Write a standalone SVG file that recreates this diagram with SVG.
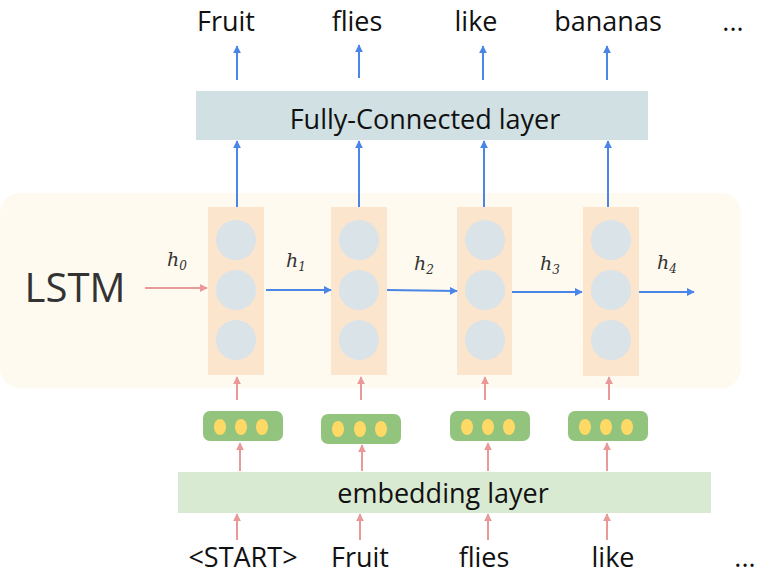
<svg xmlns="http://www.w3.org/2000/svg" width="771" height="583" viewBox="0 0 771 583">
<defs>
<marker id="ab" viewBox="0 0 10 10" refX="9" refY="5" markerWidth="4" markerHeight="4" orient="auto"><path d="M0,0 L10,5 L0,10 z" fill="#4a86e8"/></marker>
<marker id="ap" viewBox="0 0 10 10" refX="9" refY="5" markerWidth="4" markerHeight="4" orient="auto"><path d="M0,0 L10,5 L0,10 z" fill="#ea9999"/></marker>
<style>
.w{font-family:"Open Sans","Noto Sans","Liberation Sans",sans-serif;font-size:27px;fill:#111;text-anchor:middle}
.h{font-family:"DejaVu Serif","Liberation Serif",serif;font-style:italic;font-size:19px;fill:#333}
.s{font-family:"DejaVu Serif","Liberation Serif",serif;font-size:12px;fill:#333}
.cell{fill:#fce5cd}
.c{fill:#d9e3e8}
.emb{fill:#93c47d}
.d{fill:#ffd966}
.b{stroke:#4a86e8;stroke-width:2;fill:none;marker-end:url(#ab)}
.p{stroke:#ea9999;stroke-width:2;fill:none;marker-end:url(#ap)}
</style>
</defs>
<rect id="lstm-bg" x="0" y="193" width="741" height="195" rx="20" fill="#fefaf0"/>
<text x="75" y="302" style="font-family:'Open Sans','Noto Sans',sans-serif;font-size:40px;fill:#333;text-anchor:middle">LSTM</text>
<g id="fc"><rect x="196" y="91" width="452" height="49" fill="#d0e0e3"/><text class="w" x="425" y="129">Fully-Connected layer</text></g>
<g id="embedding"><rect x="178" y="472" width="533" height="41" fill="#d9ead3"/><text class="w" x="443" y="503">embedding layer</text></g>
<g id="cell1"><rect class="cell" x="208" y="207" width="56" height="168"/><circle class="c" cx="236" cy="240" r="20"/><circle class="c" cx="236" cy="290" r="20"/><circle class="c" cx="236" cy="340" r="20"/></g>
<g id="cell2"><rect class="cell" x="331" y="207" width="56" height="168"/><circle class="c" cx="359" cy="240" r="20"/><circle class="c" cx="359" cy="290" r="20"/><circle class="c" cx="359" cy="340" r="20"/></g>
<g id="cell3"><rect class="cell" x="457" y="207" width="55" height="168"/><circle class="c" cx="485" cy="240" r="20"/><circle class="c" cx="485" cy="290" r="20"/><circle class="c" cx="485" cy="340" r="20"/></g>
<g id="cell4"><rect class="cell" x="583" y="207" width="56" height="169"/><circle class="c" cx="611" cy="240" r="20"/><circle class="c" cx="611" cy="290" r="20"/><circle class="c" cx="611" cy="340" r="20"/></g>
<g id="emb1"><rect class="emb" x="203" y="411" width="80" height="30" rx="7"/><ellipse class="d" cx="220" cy="427" rx="6" ry="8"/><ellipse class="d" cx="241" cy="427" rx="6" ry="8"/><ellipse class="d" cx="262" cy="427" rx="6" ry="8"/></g>
<g id="emb2"><rect class="emb" x="321" y="414" width="80" height="30" rx="7"/><ellipse class="d" cx="338" cy="429" rx="6" ry="8"/><ellipse class="d" cx="360" cy="429" rx="6" ry="8"/><ellipse class="d" cx="381" cy="429" rx="6" ry="8"/></g>
<g id="emb3"><rect class="emb" x="450" y="411" width="80" height="30" rx="7"/><ellipse class="d" cx="467" cy="427" rx="6" ry="8"/><ellipse class="d" cx="488" cy="427" rx="6" ry="8"/><ellipse class="d" cx="509" cy="427" rx="6" ry="8"/></g>
<g id="emb4"><rect class="emb" x="568" y="411" width="80" height="30" rx="7"/><ellipse class="d" cx="585" cy="427" rx="6" ry="8"/><ellipse class="d" cx="606" cy="427" rx="6" ry="8"/><ellipse class="d" cx="627" cy="427" rx="6" ry="8"/></g>
<g id="connectors">
<line class="b" x1="237" y1="80" x2="237" y2="46"/><line class="b" x1="359" y1="78" x2="359" y2="45"/><line class="b" x1="483" y1="80" x2="483" y2="46"/><line class="b" x1="607" y1="80" x2="607" y2="46"/>
<line class="b" x1="237" y1="207" x2="237" y2="141"/><line class="b" x1="359" y1="207" x2="359" y2="141"/><line class="b" x1="484" y1="207" x2="484" y2="141"/><line class="b" x1="608" y1="207" x2="608" y2="141"/>
<line class="p" x1="145" y1="288" x2="207" y2="288"/>
<line class="b" x1="266" y1="290" x2="331" y2="290"/><line class="b" x1="387" y1="290" x2="457" y2="291"/><line class="b" x1="512" y1="292" x2="582" y2="292"/><line class="b" x1="639" y1="292" x2="694" y2="292"/>
<line class="p" x1="237" y1="400" x2="237" y2="377"/><line class="p" x1="361" y1="400" x2="361" y2="377"/><line class="p" x1="485" y1="400" x2="485" y2="377"/><line class="p" x1="609" y1="400" x2="609" y2="377"/>
<line class="p" x1="240" y1="471" x2="240" y2="443"/><line class="p" x1="362" y1="471" x2="362" y2="445"/><line class="p" x1="488" y1="471" x2="488" y2="443"/><line class="p" x1="607" y1="471" x2="607" y2="443"/>
<line class="p" x1="237" y1="540" x2="237" y2="514"/><line class="p" x1="360" y1="540" x2="360" y2="514"/><line class="p" x1="488" y1="540" x2="488" y2="514"/><line class="p" x1="607" y1="540" x2="607" y2="514"/>
</g>
<g id="hlabels">
<text class="h" x="167" y="266">h<tspan class="s" dy="4">0</tspan></text>
<text class="h" x="286" y="267">h<tspan class="s" dy="4">1</tspan></text>
<text class="h" x="414" y="270">h<tspan class="s" dy="4">2</tspan></text>
<text class="h" x="540" y="270">h<tspan class="s" dy="4">3</tspan></text>
<text class="h" x="657" y="269">h<tspan class="s" dy="4">4</tspan></text>
</g>
<g id="outputs">
<text class="w" x="226" y="31">Fruit</text><text class="w" x="357" y="31">flies</text><text class="w" x="476" y="31">like</text><text class="w" x="608" y="31">bananas</text><text class="w" x="733" y="31">...</text>
</g>
<g id="inputs">
<text class="w" x="243" y="567">&lt;START&gt;</text><text class="w" x="360" y="567">Fruit</text><text class="w" x="484" y="567">flies</text><text class="w" x="613" y="567">like</text><text class="w" x="745" y="567">...</text>
</g>
</svg>
